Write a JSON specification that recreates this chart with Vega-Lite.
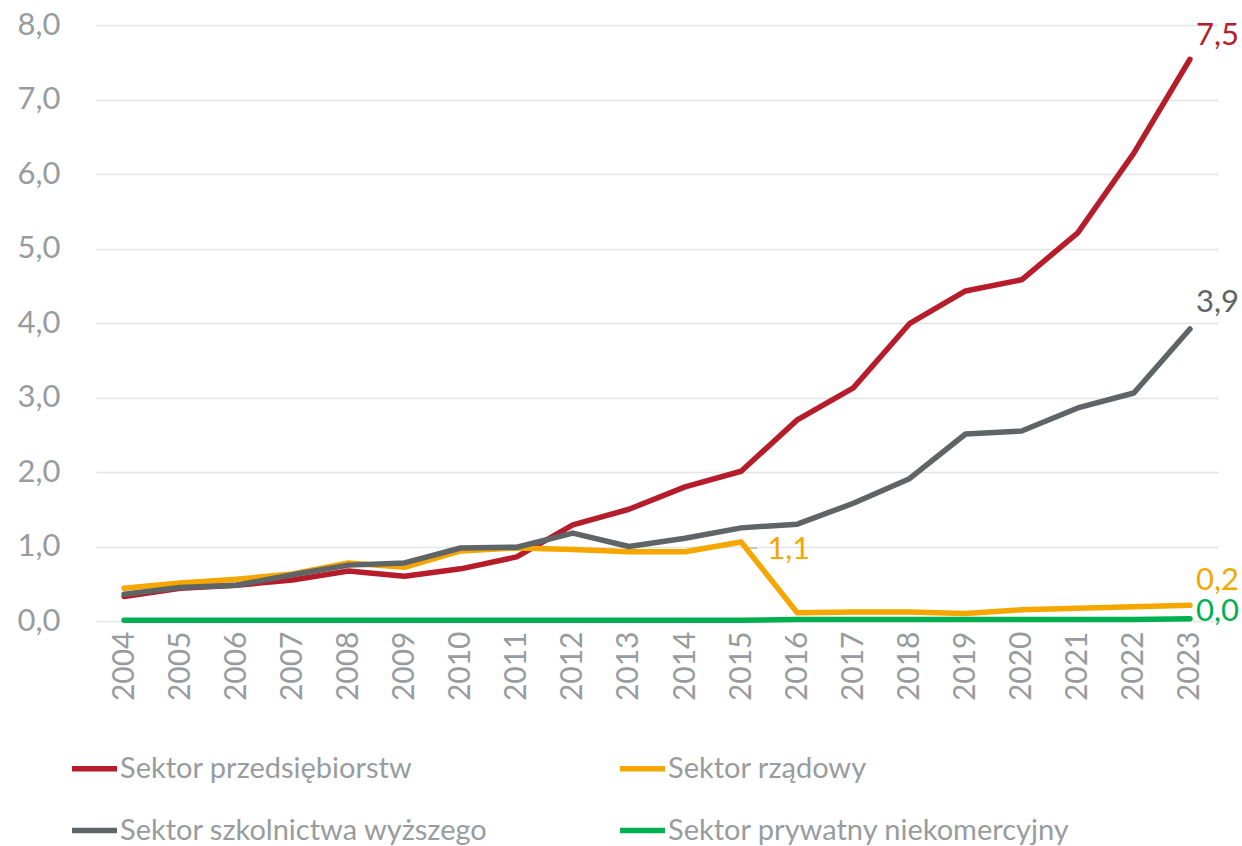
{
  "$schema": "https://vega.github.io/schema/vega-lite/v6.json",
  "width": 1122,
  "height": 596,
  "autosize": {"type": "none"},
  "padding": {"left": 96, "top": 25, "right": 24, "bottom": 225},
  "background": "white",
  "config": {
    "locale": {"number": {"decimal": ",", "thousands": " ", "grouping": [3], "currency": ["", " zł"]}},
    "font": "Lato",
    "view": {"stroke": null}
  },
  "data": {
    "values": [
      {"year": 2004, "sector": "Sektor przedsiębiorstw", "value": 0.33},
      {"year": 2005, "sector": "Sektor przedsiębiorstw", "value": 0.44},
      {"year": 2006, "sector": "Sektor przedsiębiorstw", "value": 0.48},
      {"year": 2007, "sector": "Sektor przedsiębiorstw", "value": 0.55},
      {"year": 2008, "sector": "Sektor przedsiębiorstw", "value": 0.67},
      {"year": 2009, "sector": "Sektor przedsiębiorstw", "value": 0.60},
      {"year": 2010, "sector": "Sektor przedsiębiorstw", "value": 0.70},
      {"year": 2011, "sector": "Sektor przedsiębiorstw", "value": 0.86},
      {"year": 2012, "sector": "Sektor przedsiębiorstw", "value": 1.29},
      {"year": 2013, "sector": "Sektor przedsiębiorstw", "value": 1.50},
      {"year": 2014, "sector": "Sektor przedsiębiorstw", "value": 1.80},
      {"year": 2015, "sector": "Sektor przedsiębiorstw", "value": 2.01},
      {"year": 2016, "sector": "Sektor przedsiębiorstw", "value": 2.70},
      {"year": 2017, "sector": "Sektor przedsiębiorstw", "value": 3.13},
      {"year": 2018, "sector": "Sektor przedsiębiorstw", "value": 3.99},
      {"year": 2019, "sector": "Sektor przedsiębiorstw", "value": 4.43},
      {"year": 2020, "sector": "Sektor przedsiębiorstw", "value": 4.58},
      {"year": 2021, "sector": "Sektor przedsiębiorstw", "value": 5.21},
      {"year": 2022, "sector": "Sektor przedsiębiorstw", "value": 6.28},
      {"year": 2023, "sector": "Sektor przedsiębiorstw", "value": 7.54},
      {"year": 2004, "sector": "Sektor rządowy", "value": 0.44},
      {"year": 2005, "sector": "Sektor rządowy", "value": 0.51},
      {"year": 2006, "sector": "Sektor rządowy", "value": 0.56},
      {"year": 2007, "sector": "Sektor rządowy", "value": 0.63},
      {"year": 2008, "sector": "Sektor rządowy", "value": 0.78},
      {"year": 2009, "sector": "Sektor rządowy", "value": 0.72},
      {"year": 2010, "sector": "Sektor rządowy", "value": 0.94},
      {"year": 2011, "sector": "Sektor rządowy", "value": 0.98},
      {"year": 2012, "sector": "Sektor rządowy", "value": 0.96},
      {"year": 2013, "sector": "Sektor rządowy", "value": 0.93},
      {"year": 2014, "sector": "Sektor rządowy", "value": 0.93},
      {"year": 2015, "sector": "Sektor rządowy", "value": 1.06},
      {"year": 2016, "sector": "Sektor rządowy", "value": 0.11},
      {"year": 2017, "sector": "Sektor rządowy", "value": 0.12},
      {"year": 2018, "sector": "Sektor rządowy", "value": 0.12},
      {"year": 2019, "sector": "Sektor rządowy", "value": 0.10},
      {"year": 2020, "sector": "Sektor rządowy", "value": 0.15},
      {"year": 2021, "sector": "Sektor rządowy", "value": 0.17},
      {"year": 2022, "sector": "Sektor rządowy", "value": 0.19},
      {"year": 2023, "sector": "Sektor rządowy", "value": 0.21},
      {"year": 2004, "sector": "Sektor szkolnictwa wyższego", "value": 0.36},
      {"year": 2005, "sector": "Sektor szkolnictwa wyższego", "value": 0.45},
      {"year": 2006, "sector": "Sektor szkolnictwa wyższego", "value": 0.48},
      {"year": 2007, "sector": "Sektor szkolnictwa wyższego", "value": 0.62},
      {"year": 2008, "sector": "Sektor szkolnictwa wyższego", "value": 0.75},
      {"year": 2009, "sector": "Sektor szkolnictwa wyższego", "value": 0.78},
      {"year": 2010, "sector": "Sektor szkolnictwa wyższego", "value": 0.98},
      {"year": 2011, "sector": "Sektor szkolnictwa wyższego", "value": 0.99},
      {"year": 2012, "sector": "Sektor szkolnictwa wyższego", "value": 1.18},
      {"year": 2013, "sector": "Sektor szkolnictwa wyższego", "value": 1.00},
      {"year": 2014, "sector": "Sektor szkolnictwa wyższego", "value": 1.11},
      {"year": 2015, "sector": "Sektor szkolnictwa wyższego", "value": 1.25},
      {"year": 2016, "sector": "Sektor szkolnictwa wyższego", "value": 1.30},
      {"year": 2017, "sector": "Sektor szkolnictwa wyższego", "value": 1.58},
      {"year": 2018, "sector": "Sektor szkolnictwa wyższego", "value": 1.91},
      {"year": 2019, "sector": "Sektor szkolnictwa wyższego", "value": 2.51},
      {"year": 2020, "sector": "Sektor szkolnictwa wyższego", "value": 2.55},
      {"year": 2021, "sector": "Sektor szkolnictwa wyższego", "value": 2.86},
      {"year": 2022, "sector": "Sektor szkolnictwa wyższego", "value": 3.06},
      {"year": 2023, "sector": "Sektor szkolnictwa wyższego", "value": 3.92},
      {"year": 2004, "sector": "Sektor prywatny niekomercyjny", "value": 0.01},
      {"year": 2005, "sector": "Sektor prywatny niekomercyjny", "value": 0.01},
      {"year": 2006, "sector": "Sektor prywatny niekomercyjny", "value": 0.01},
      {"year": 2007, "sector": "Sektor prywatny niekomercyjny", "value": 0.01},
      {"year": 2008, "sector": "Sektor prywatny niekomercyjny", "value": 0.01},
      {"year": 2009, "sector": "Sektor prywatny niekomercyjny", "value": 0.01},
      {"year": 2010, "sector": "Sektor prywatny niekomercyjny", "value": 0.01},
      {"year": 2011, "sector": "Sektor prywatny niekomercyjny", "value": 0.01},
      {"year": 2012, "sector": "Sektor prywatny niekomercyjny", "value": 0.01},
      {"year": 2013, "sector": "Sektor prywatny niekomercyjny", "value": 0.01},
      {"year": 2014, "sector": "Sektor prywatny niekomercyjny", "value": 0.01},
      {"year": 2015, "sector": "Sektor prywatny niekomercyjny", "value": 0.01},
      {"year": 2016, "sector": "Sektor prywatny niekomercyjny", "value": 0.02},
      {"year": 2017, "sector": "Sektor prywatny niekomercyjny", "value": 0.02},
      {"year": 2018, "sector": "Sektor prywatny niekomercyjny", "value": 0.02},
      {"year": 2019, "sector": "Sektor prywatny niekomercyjny", "value": 0.02},
      {"year": 2020, "sector": "Sektor prywatny niekomercyjny", "value": 0.02},
      {"year": 2021, "sector": "Sektor prywatny niekomercyjny", "value": 0.02},
      {"year": 2022, "sector": "Sektor prywatny niekomercyjny", "value": 0.02},
      {"year": 2023, "sector": "Sektor prywatny niekomercyjny", "value": 0.03}
    ]
  },
  "encoding": {
    "x": {
      "field": "year", "type": "ordinal",
      "scale": {"type": "point", "padding": 0.5},
      "axis": {
        "title": null, "labelAngle": -90, "labelFontSize": 30, "labelColor": "#989c9e",
        "labelPadding": 10, "ticks": false, "domain": false, "grid": false
      }
    },
    "y": {
      "field": "value", "type": "quantitative",
      "scale": {"domain": [0, 8], "nice": false},
      "axis": {
        "title": null, "values": [0, 1, 2, 3, 4, 5, 6, 7, 8], "format": ".1f",
        "labelFontSize": 31, "labelColor": "#989c9e", "labelPadding": 36,
        "ticks": false, "domain": false, "gridColor": "#e4e4e4", "gridWidth": 1.5
      }
    }
  },
  "layer": [
    {
      "transform": [{"filter": "datum.year == 2015 && datum.sector == 'Sektor rządowy'"}],
      "mark": {"type": "rule", "color": "#b5b8ba", "strokeWidth": 1.5, "xOffset": 3, "x2Offset": 16, "yOffset": 6, "y2Offset": 6},
      "encoding": {
        "x2": {"field": "year"},
        "y2": {"field": "value"}
      }
    },
    {
      "mark": {"type": "line", "strokeWidth": 5.5, "strokeCap": "round", "strokeJoin": "round"},
      "encoding": {
        "color": {
          "field": "sector", "type": "nominal",
          "scale": {
            "domain": ["Sektor przedsiębiorstw", "Sektor rządowy", "Sektor szkolnictwa wyższego", "Sektor prywatny niekomercyjny"],
            "range": ["#b71c2b", "#f5a700", "#5f6466", "#00b050"]
          },
          "legend": {
            "title": null, "orient": "none", "legendX": -27, "legendY": 718,
            "columns": 2, "direction": "horizontal",
            "symbolType": "stroke", "symbolSize": 2025, "symbolStrokeWidth": 5.5,
            "labelFontSize": 29, "labelColor": "#989c9e", "labelFont": "Lato",
            "labelOffset": 0, "rowPadding": 21, "columnPadding": 121, "labelLimit": 600
          }
        }
      }
    },
    {
      "transform": [{"filter": "datum.year == 2023 && datum.sector == 'Sektor przedsiębiorstw'"}],
      "mark": {"type": "text", "align": "left", "baseline": "alphabetic", "dx": 6, "dy": -14, "fontSize": 31, "color": "#b71c2b"},
      "encoding": {"text": {"field": "value", "type": "quantitative", "format": ".1f"}}
    },
    {
      "transform": [{"filter": "datum.year == 2023 && datum.sector == 'Sektor szkolnictwa wyższego'"}],
      "mark": {"type": "text", "align": "left", "baseline": "alphabetic", "dx": 6, "dy": -17, "fontSize": 31, "color": "#5f6466"},
      "encoding": {"text": {"field": "value", "type": "quantitative", "format": ".1f"}}
    },
    {
      "transform": [{"filter": "datum.year == 2023 && datum.sector == 'Sektor rządowy'"}],
      "mark": {"type": "text", "align": "left", "baseline": "alphabetic", "dx": 6, "dy": -15, "fontSize": 31, "color": "#f5a700"},
      "encoding": {"text": {"field": "value", "type": "quantitative", "format": ".1f"}}
    },
    {
      "transform": [{"filter": "datum.year == 2015 && datum.sector == 'Sektor rządowy'"}],
      "mark": {"type": "text", "align": "left", "baseline": "middle", "dx": 26, "dy": 8, "fontSize": 31, "color": "#f5a700"},
      "encoding": {"text": {"field": "value", "type": "quantitative", "format": ".1f"}}
    },
    {
      "transform": [{"filter": "datum.year == 2023 && datum.sector == 'Sektor prywatny niekomercyjny'"}],
      "mark": {"type": "text", "align": "left", "baseline": "middle", "dx": 6, "dy": -7, "fontSize": 31, "color": "#00b050"},
      "encoding": {"text": {"field": "value", "type": "quantitative", "format": ".1f"}}
    }
  ]
}
